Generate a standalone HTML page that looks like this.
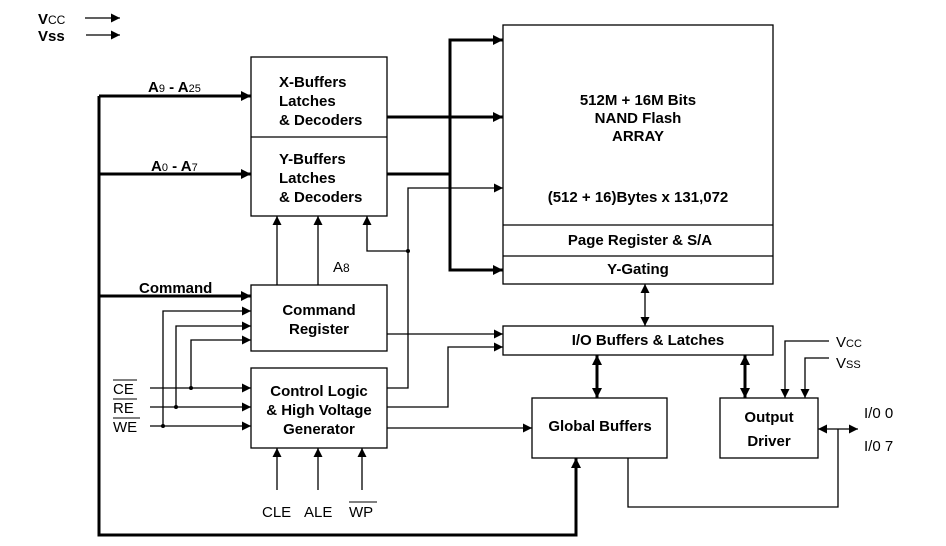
<!DOCTYPE html>
<html><head><style>body{margin:0;background:#fff}svg{display:block}text{font-family:"Liberation Sans",sans-serif;fill:#000}.b{font-weight:bold;font-size:15px}.n{font-size:15px}</style></head><body>
<svg width="946" height="546" viewBox="0 0 946 546">
<defs>
<marker id="a" viewBox="0 0 10 10" refX="10" refY="5" markerWidth="10" markerHeight="10" markerUnits="userSpaceOnUse" orient="auto-start-reverse"><path d="M0,0L10,5L0,10z"/></marker>
<marker id="t" viewBox="0 0 10 10" refX="10" refY="5" markerWidth="9" markerHeight="9" markerUnits="userSpaceOnUse" orient="auto-start-reverse"><path d="M0,0L10,5L0,10z"/></marker>
</defs>
<g fill="none" stroke="#000" stroke-width="1.3">
<rect x="251" y="57" width="136" height="159"/><line x1="251" y1="137" x2="387" y2="137"/>
<rect x="503" y="25" width="270" height="259"/><line x1="503" y1="225" x2="773" y2="225"/><line x1="503" y1="256" x2="773" y2="256"/>
<rect x="251" y="285" width="136" height="66"/>
<rect x="251" y="368" width="136" height="80"/>
<rect x="503" y="326" width="270" height="29"/>
<rect x="532" y="398" width="135" height="60"/>
<rect x="720" y="398" width="98" height="60"/>
<line x1="85" y1="18" x2="120" y2="18" marker-end="url(#t)"/>
<line x1="86" y1="35" x2="120" y2="35" marker-end="url(#t)"/>
<polyline points="503,188 408,188 408,388 387,388" marker-start="url(#t)"/>
<polyline points="408,251 367,251 367,216" marker-end="url(#t)"/>
<line x1="277" y1="285" x2="277" y2="216" marker-end="url(#t)"/>
<line x1="318" y1="285" x2="318" y2="216" marker-end="url(#t)"/>
<line x1="150" y1="388" x2="251" y2="388" marker-end="url(#t)"/>
<line x1="150" y1="407" x2="251" y2="407" marker-end="url(#t)"/>
<line x1="150" y1="426" x2="251" y2="426" marker-end="url(#t)"/>
<polyline points="163,426 163,311 251,311" marker-end="url(#t)"/>
<polyline points="176,407 176,326 251,326" marker-end="url(#t)"/>
<polyline points="191,388 191,340 251,340" marker-end="url(#t)"/>
<line x1="387" y1="334" x2="503" y2="334" marker-end="url(#t)"/>
<polyline points="387,407 448,407 448,347 503,347" marker-end="url(#t)"/>
<line x1="387" y1="428" x2="532" y2="428" marker-end="url(#t)"/>
<line x1="277" y1="490" x2="277" y2="448" marker-end="url(#t)"/>
<line x1="318" y1="490" x2="318" y2="448" marker-end="url(#t)"/>
<line x1="362" y1="490" x2="362" y2="448" marker-end="url(#t)"/>
<line x1="645" y1="284" x2="645" y2="326" marker-start="url(#t)" marker-end="url(#t)"/>
<polyline points="829,341 785,341 785,398" marker-end="url(#t)"/>
<polyline points="829,358 805,358 805,398" marker-end="url(#t)"/>
<line x1="818" y1="429" x2="858" y2="429" marker-start="url(#t)" marker-end="url(#t)"/>
<polyline points="628,458 628,507 838,507 838,429"/>
</g>
<g fill="none" stroke="#000" stroke-width="3">
<polyline points="99,96 99,535 576,535 576,458" marker-end="url(#a)"/>
<line x1="99" y1="96" x2="251" y2="96" marker-end="url(#a)"/>
<line x1="99" y1="174" x2="251" y2="174" marker-end="url(#a)"/>
<line x1="99" y1="296" x2="251" y2="296" marker-end="url(#a)"/>
<polyline points="503,40 450,40 450,270 503,270" marker-start="url(#a)" marker-end="url(#a)"/>
<line x1="387" y1="117" x2="503" y2="117" marker-end="url(#a)"/>
<line x1="387" y1="174" x2="450" y2="174"/>
<line x1="597" y1="355" x2="597" y2="398" marker-start="url(#a)" marker-end="url(#a)"/>
<line x1="745" y1="355" x2="745" y2="398" marker-start="url(#a)" marker-end="url(#a)"/>
</g>
<g fill="#000"><circle cx="408" cy="251" r="2"/><circle cx="163" cy="426" r="2"/><circle cx="176" cy="407" r="2"/><circle cx="191" cy="388" r="2"/></g>
<text x="38" y="24" class="b" font-size="16">V<tspan font-size="12" font-weight="normal">CC</tspan></text>
<text x="38" y="41" class="b">Vss</text>
<text x="148" y="92" class="b">A<tspan font-size="11" font-weight="normal">9</tspan> - A<tspan font-size="11" font-weight="normal">25</tspan></text>
<text x="151" y="171" class="b">A<tspan font-size="11" font-weight="normal">0</tspan> - A<tspan font-size="11" font-weight="normal">7</tspan></text>
<text x="139" y="293" class="b">Command</text>
<text x="279" y="87" class="b">X-Buffers</text><text x="279" y="106" class="b">Latches</text><text x="279" y="125" class="b">&amp; Decoders</text>
<text x="279" y="164" class="b">Y-Buffers</text><text x="279" y="183" class="b">Latches</text><text x="279" y="202" class="b">&amp; Decoders</text>
<text x="333" y="272" class="n">A<tspan font-size="12">8</tspan></text>
<g text-anchor="middle" class="b">
<text x="638" y="105" class="b">512M + 16M Bits</text><text x="638" y="123" class="b">NAND Flash</text><text x="638" y="141" class="b">ARRAY</text>
<text x="638" y="202" class="b">(512 + 16)Bytes x 131,072</text>
<text x="640" y="245" class="b">Page Register &amp; S/A</text>
<text x="638" y="274" class="b">Y-Gating</text>
<text x="319" y="315" class="b">Command</text><text x="319" y="334" class="b">Register</text>
<text x="319" y="396" class="b">Control Logic</text><text x="319" y="415" class="b">&amp; High Voltage</text><text x="319" y="434" class="b">Generator</text>
<text x="648" y="345" class="b">I/O Buffers &amp; Latches</text>
<text x="600" y="431" class="b">Global Buffers</text>
<text x="769" y="422" class="b">Output</text><text x="769" y="446" class="b">Driver</text>
</g>
<text x="113" y="394" class="n" font-size="16">CE</text><line x1="113" y1="380" x2="137" y2="380" stroke="#000"/>
<text x="113" y="413" class="n" font-size="16">RE</text><line x1="113" y1="399" x2="137" y2="399" stroke="#000"/>
<text x="113" y="432" class="n" font-size="16">WE</text><line x1="113" y1="418" x2="140" y2="418" stroke="#000"/>
<text x="262" y="517" class="n" font-size="16">CLE</text><text x="304" y="517" class="n" font-size="16">ALE</text><text x="349" y="517" class="n" font-size="16">WP</text>
<line x1="349" y1="502" x2="377" y2="502" stroke="#000"/>
<text x="836" y="347" class="n">V<tspan font-size="11">CC</tspan></text>
<text x="836" y="368" class="n">V<tspan font-size="11">SS</tspan></text>
<text x="864" y="418" class="n">I/0 0</text>
<text x="864" y="451" class="n">I/0 7</text>
</svg></body></html>
